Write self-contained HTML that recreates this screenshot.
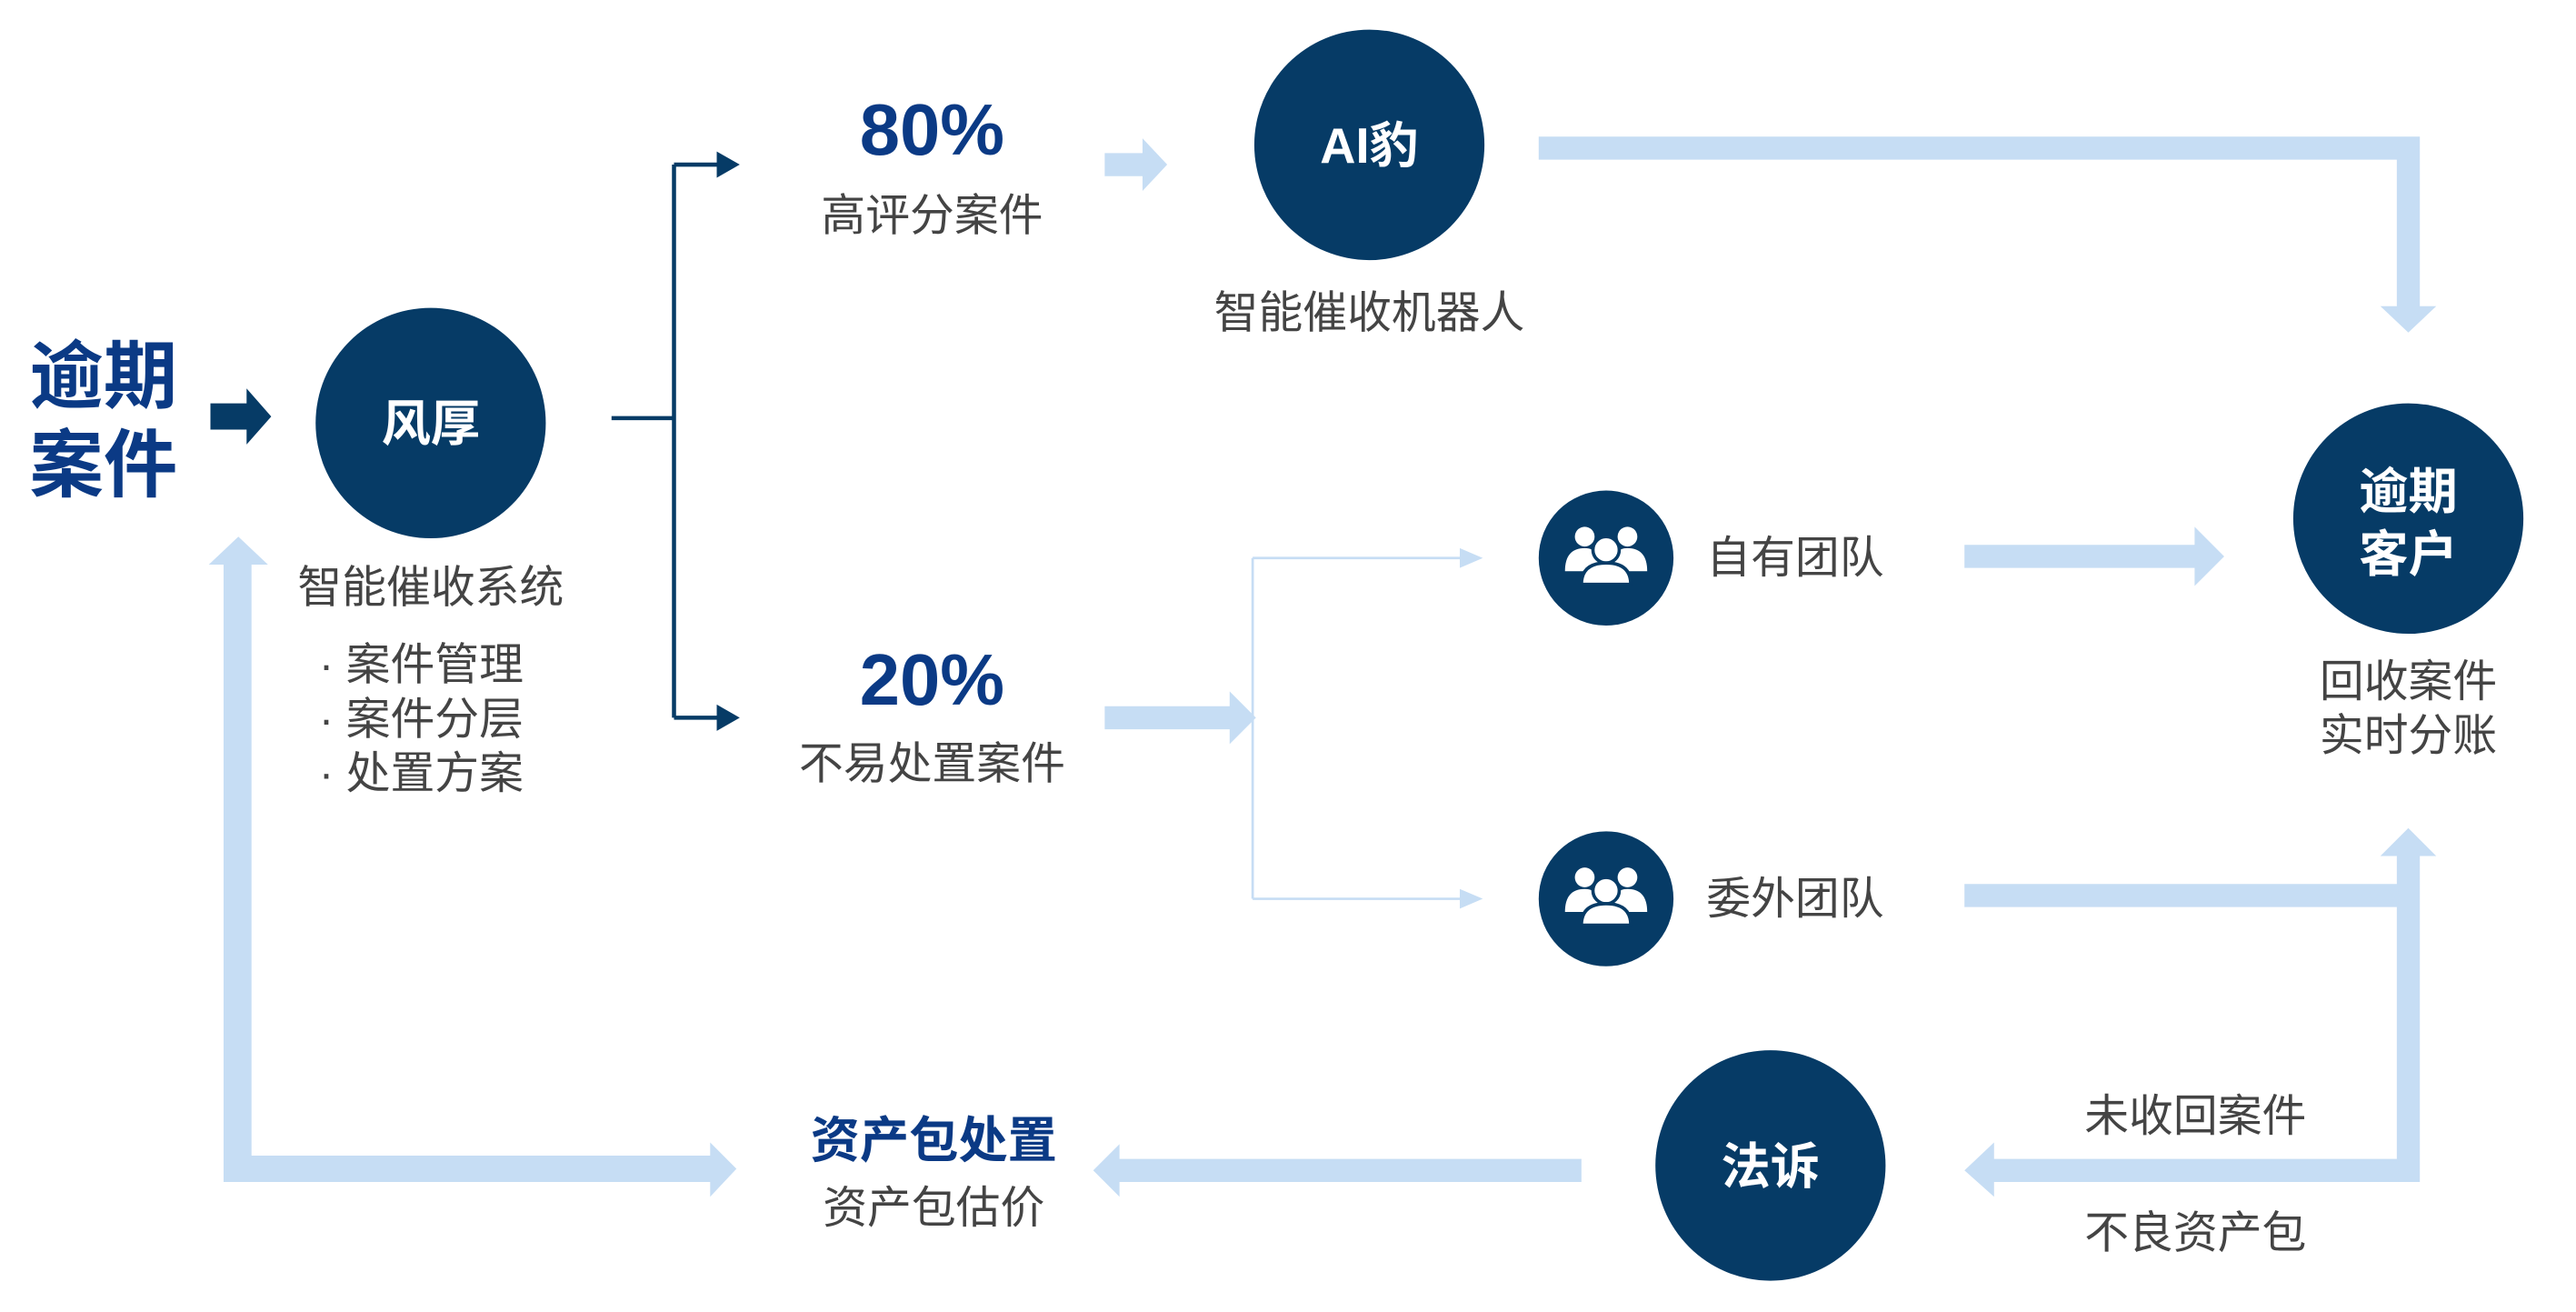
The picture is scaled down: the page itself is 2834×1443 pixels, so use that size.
<!DOCTYPE html>
<html><head><meta charset="utf-8"><style>
html,body{margin:0;padding:0;background:#fff;}
svg{display:block;}
text{font-family:"Liberation Sans","Noto Sans CJK SC",sans-serif;}
</style></head><body>
<svg width="2834" height="1443" viewBox="0 0 1567 797" preserveAspectRatio="none" xmlns="http://www.w3.org/2000/svg">
<defs>
<g id="people">
 <circle cx="-13" cy="-13" r="6" fill="#fff"/>
 <circle cx="13" cy="-13" r="6" fill="#fff"/>
 <path d="M-25 8 Q-25 -6 -13 -6 Q-3 -6 -3 8 Z" fill="#fff"/>
 <path d="M25 8 Q25 -6 13 -6 Q3 -6 3 8 Z" fill="#fff"/>
 <circle cx="0" cy="-5" r="8" stroke="#063b66" stroke-width="2" fill="#fff"/>
 <path d="M-15 16 Q-15 3 0 3 Q15 3 15 16 Z" stroke="#063b66" stroke-width="2" fill="#fff"/>
</g>
</defs>
<text x="18" y="244" font-size="45" font-weight="bold" fill="#0b3a85">逾期</text>
<text x="18" y="298" font-size="45" font-weight="bold" fill="#0b3a85">案件</text>
<polygon points="128,245 150,245 150,236 165,253 150,270 150,261 128,261" fill="#063b66"/>
<circle cx="262" cy="257" r="70" fill="#063b66"/>
<text x="262" y="268" font-size="30" font-weight="bold" fill="#fff" text-anchor="middle">风厚</text>
<text x="262" y="366" font-size="27" fill="#444" text-anchor="middle">智能催收系统</text>
<text x="194" y="413" font-size="27" fill="#444">· 案件管理</text>
<text x="194" y="446" font-size="27" fill="#444">· 案件分层</text>
<text x="194" y="479" font-size="27" fill="#444">· 处置方案</text>
<polygon points="136,718 136,343 127,343 145,326 163,343 153,343 153,702 432,702 432,694 448,710 432,727 432,718" fill="#c6ddf4"/>
<path d="M372 254 H410 M410 100 V436 M410 100 H437 M410 436 H437" stroke="#063b66" stroke-width="2.5" fill="none"/>
<polygon points="436,92 450,100 436,108" fill="#063b66"/>
<polygon points="436,428 450,436 436,444" fill="#063b66"/>
<text x="567" y="94" font-size="44" font-weight="bold" fill="#0b3a85" text-anchor="middle">80%</text>
<text x="567" y="140" font-size="27" fill="#444" text-anchor="middle">高评分案件</text>
<polygon points="672,93 695,93 695,84 710,100 695,116 695,107 672,107" fill="#c6ddf4"/>
<circle cx="833" cy="88" r="70" fill="#063b66"/>
<text x="833" y="99" font-size="30" font-weight="bold" fill="#fff" text-anchor="middle">AI豹</text>
<text x="833" y="199" font-size="27" fill="#444" text-anchor="middle">智能催收机器人</text>
<polygon points="936,83 1472,83 1472,186 1482,186 1465,202 1448,186 1458,186 1458,97 936,97" fill="#c6ddf4"/>
<text x="567" y="428" font-size="44" font-weight="bold" fill="#0b3a85" text-anchor="middle">20%</text>
<text x="567" y="473" font-size="27" fill="#444" text-anchor="middle">不易处置案件</text>
<polygon points="672,429 748,429 748,420 764,436 748,452 748,443 672,443" fill="#c6ddf4"/>
<path d="M762 339 V546 M762 339 H892 M762 546 H892" stroke="#c6ddf4" stroke-width="1.5" fill="none"/>
<polygon points="888,333 902,339 888,345" fill="#c6ddf4"/>
<polygon points="888,540 902,546 888,552" fill="#c6ddf4"/>
<circle cx="977" cy="339" r="41" fill="#063b66"/>
<use href="#people" x="977" y="339"/>
<circle cx="977" cy="546" r="41" fill="#063b66"/>
<use href="#people" x="977" y="546"/>
<text x="1038" y="348" font-size="27" fill="#444">自有团队</text>
<text x="1038" y="555" font-size="27" fill="#444">委外团队</text>
<polygon points="1195,331 1335,331 1335,320 1353,338 1335,356 1335,345 1195,345" fill="#c6ddf4"/>
<circle cx="1465" cy="315" r="70" fill="#063b66"/>
<text x="1465" y="309" font-size="30" font-weight="bold" fill="#fff" text-anchor="middle">逾期</text>
<text x="1465" y="347" font-size="30" font-weight="bold" fill="#fff" text-anchor="middle">客户</text>
<text x="1465" y="423" font-size="27" fill="#444" text-anchor="middle">回收案件</text>
<text x="1465" y="456" font-size="27" fill="#444" text-anchor="middle">实时分账</text>
<polygon points="1195,537 1458,537 1458,520 1448,520 1465,503 1482,520 1472,520 1472,718 1213,718 1213,727 1195,711 1213,694 1213,704 1458,704 1458,551 1195,551" fill="#c6ddf4"/>
<text x="1268" y="687" font-size="27" fill="#444">未收回案件</text>
<text x="1268" y="758" font-size="27" fill="#444">不良资产包</text>
<circle cx="1077" cy="708" r="70" fill="#063b66"/>
<text x="1077" y="719" font-size="30" font-weight="bold" fill="#fff" text-anchor="middle">法诉</text>
<polygon points="962,704 681,704 681,695 665,711 681,727 681,718 962,718" fill="#c6ddf4"/>
<text x="568" y="703" font-size="30" font-weight="bold" fill="#0b3a85" text-anchor="middle">资产包处置</text>
<text x="568" y="743" font-size="27" fill="#444" text-anchor="middle">资产包估价</text>
</svg>
</body></html>
